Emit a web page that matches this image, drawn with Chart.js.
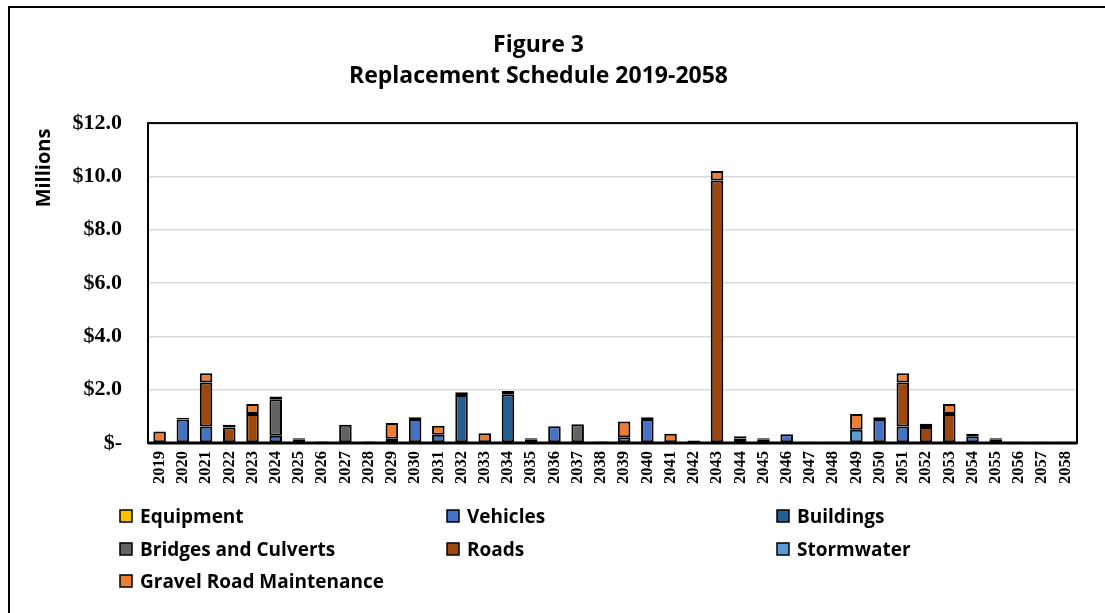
<!DOCTYPE html>
<html>
<head>
<meta charset="utf-8">
<script src="https://cdn.jsdelivr.net/npm/chart.js@4.4.1/dist/chart.umd.min.js"></script>
<style>
  html, body { margin: 0; padding: 0; background: #fff; }
  #wrap { position: relative; width: 1105px; height: 613px; overflow: hidden; }
  #frame { position: absolute; left: 8px; top: 6px; width: 1200px; height: 700px; border: 2px solid #000; box-sizing: border-box; }
  canvas { position: absolute; left: 0; top: 0; }
</style>
</head>
<body>
<div id="wrap">
  <div id="frame"></div>
  <canvas id="c" width="1105" height="613"></canvas>
</div>
<script>
const years = [];
for (let y = 2019; y <= 2058; y++) years.push(String(y));

//                  2019 2020 2021 2022 2023 2024 2025 2026 2027 2028 2029 2030 2031 2032 2033 2034 2035 2036 2037 2038 2039 2040 2041 2042 2043 2044 2045 2046 2047 2048 2049 2050 2051 2052 2053 2054 2055 2056 2057 2058
const equipment  = [0,   0,   0,   0,   0,   0,   0.12,0,   0,   0,   0,   0,   0,   0,   0,   0,   0.12,0,   0,   0,   0,   0,   0,   0,   0,   0,   0.12,0,   0,   0,   0,   0,   0,   0,   0,   0,   0.12,0,   0,   0];
const vehicles   = [0,   0.88,0.62,0,   0,   0.27,0,   0,   0,   0,   0.16,0.90,0.31,0,   0,   0,   0,   0.63,0,   0,   0.22,0.90,0,   0,   0,   0.17,0,   0.33,0,   0,   0,   0.90,0.62,0,   0,   0.25,0,   0,   0,   0];
const buildings  = [0,   0,   0,   0,   0,   0,   0,   0,   0,   0,   0,   0,   0,   1.80,0,   1.83,0,   0,   0,   0,   0,   0,   0,   0,   0,   0,   0,   0,   0,   0,   0,   0,   0,   0,   0,   0,   0,   0,   0,   0];
const bridges    = [0,   0,   0,   0,   0,   1.37,0,   0,   0.68,0,   0,   0,   0,   0,   0,   0,   0,   0,   0.70,0,   0,   0,   0,   0,   0,   0,   0,   0,   0,   0,   0,   0,   0,   0,   0,   0,   0,   0,   0,   0];
const roads      = [0,   0,   1.65,0.58,1.09,0,   0,   0.06,0,   0.06,0,   0,   0,   0,   0,   0,   0,   0,   0,   0.06,0,   0,   0,   0.09,9.85,0,   0,   0,   0.05,0.05,0,   0,   1.65,0.60,1.09,0,   0,   0.05,0.05,0.05];
const stormwater = [0,   0.07,0,   0.10,0,   0.10,0.06,0,   0,   0,   0,   0.07,0,   0.10,0,   0.12,0.06,0,   0,   0,   0,   0.07,0,   0,   0,   0.08,0.06,0,   0,   0,   0.50,0.07,0,   0.12,0,   0.10,0.06,0,   0,   0];
const gravel     = [0.43,0,   0.35,0,   0.37,0,   0,   0,   0,   0,   0.59,0,   0.34,0,   0.37,0,   0,   0,   0,   0,   0.59,0,   0.35,0,   0.35,0,   0,   0,   0,   0,   0.59,0,   0.35,0,   0.37,0,   0,   0,   0,   0];

const yTicks = [0, 2, 4, 6, 8, 10, 12];
const seriesNames = ['Equipment', 'Vehicles', 'Buildings', 'Bridges and Culverts', 'Roads', 'Stormwater', 'Gravel Road Maintenance'];
const seriesData = [equipment, vehicles, buildings, bridges, roads, stormwater, gravel];
const seriesColors = ['#FFC000', '#4472C4', '#255E91', '#636363', '#9E480E', '#5B9BD5', '#ED7D31'];

const datasets = seriesNames.map((n, i) => ({
  label: n,
  data: seriesData[i],
  backgroundColor: seriesColors[i],
  borderColor: '#000',
  borderWidth: 2,
  borderSkipped: false,
  barPercentage: 0.54,
  categoryPercentage: 1.0
}));

const SANS = '"Open Sans", Lato, sans-serif';
const SERIF = '"Liberation Serif", "DejaVu Serif", serif';

const frameBox = {
  id: 'frameBox',
  afterDraw(chart) {
    const { ctx, chartArea: a } = chart;
    ctx.save();
    ctx.strokeStyle = '#000';
    ctx.lineWidth = 2;
    ctx.strokeRect(a.left, a.top, a.right - a.left, a.bottom - a.top);
    ctx.lineWidth = 3;
    ctx.beginPath();
    ctx.moveTo(a.left, a.bottom);
    ctx.lineTo(a.right, a.bottom);
    ctx.stroke();
    // y axis title
    ctx.font = 'bold 20px ' + SANS;
    ctx.fillStyle = '#000';
    ctx.textAlign = 'center';
    ctx.textBaseline = 'middle';
    ctx.translate(44, 168);
    ctx.rotate(-Math.PI / 2);
    ctx.fillText('Millions', 0, 0);
    ctx.restore();
  }
};

const gridLegend = {
  id: 'gridLegend',
  afterDraw(chart) {
    const { ctx } = chart;
    const colX = [120, 447, 777];
    const rowY = [516, 549, 581];
    ctx.save();
    ctx.font = 'bold 19px ' + SANS;
    ctx.textBaseline = 'middle';
    ctx.textAlign = 'left';
    chart.data.datasets.forEach((ds, i) => {
      const x = colX[i % 3];
      const y = rowY[Math.floor(i / 3)];
      ctx.fillStyle = ds.backgroundColor;
      ctx.fillRect(x, y - 6, 12, 12);
      ctx.strokeStyle = '#000';
      ctx.lineWidth = 1.5;
      ctx.strokeRect(x, y - 6, 12, 12);
      ctx.fillStyle = '#000';
      ctx.fillText(ds.label, x + 20, y + 2);
    });
    ctx.restore();
  }
};

new Chart(document.getElementById('c'), {
  type: 'bar',
  data: { labels: years, datasets },
  options: {
    responsive: false,
    animation: false,
    devicePixelRatio: 1,
    layout: { padding: { left: 0, right: 28, top: 0, bottom: 0 } },
    plugins: {
      legend: { display: false },
      tooltip: { enabled: false },
      title: {
        display: true,
        text: ['Figure 3', 'Replacement Schedule 2019-2058'],
        color: '#000',
        font: { family: SANS, size: 23, weight: 'bold', lineHeight: 1.35 },
        padding: { top: 30, bottom: 31 }
      }
    },
    scales: {
      x: {
        stacked: true,
        grid: { display: false, drawTicks: false },
        border: { display: false },
        ticks: {
          color: '#000',
          font: { family: SERIF, size: 16.5, weight: 'bold' },
          minRotation: 90, maxRotation: 90,
          autoSkip: false,
          padding: 8
        },
        afterFit(scale) { scale.height = 170; }
      },
      y: {
        stacked: true,
        min: 0, max: 12,
        afterBuildTicks(scale) { scale.ticks = yTicks.map(v => ({ value: v })); },
        grid: { color: '#D9D9D9', lineWidth: 1.5, drawTicks: false },
        border: { display: false },
        ticks: {
          color: '#000',
          font: { family: SERIF, size: 22, weight: 'bold' },
          padding: 26,
          callback: v => v === 0 ? '$-' : '$' + Number(v).toFixed(1)
        },
        afterFit(scale) { scale.width = 148; }
      }
    }
  },
  plugins: [frameBox, gridLegend]
});
</script>
</body>
</html>
